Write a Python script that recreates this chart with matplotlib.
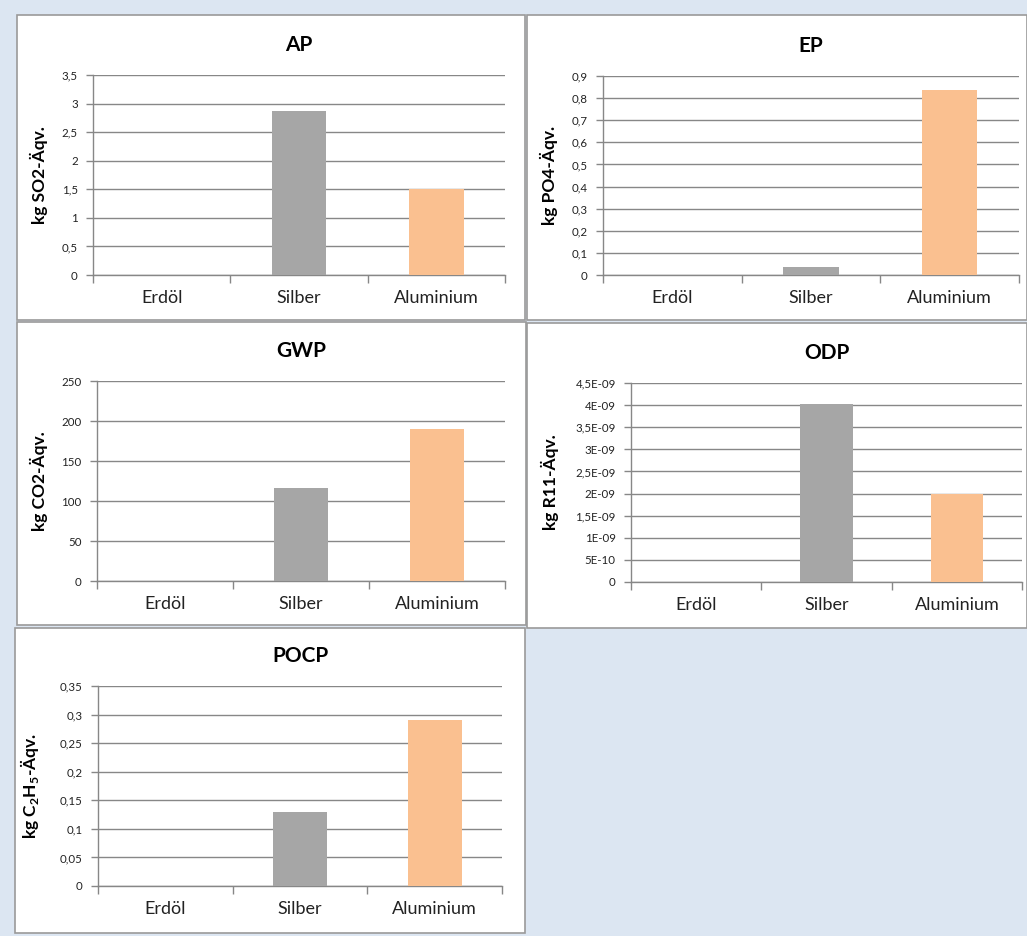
import matplotlib
matplotlib.use("Agg")
import matplotlib.pyplot as plt
from matplotlib.patches import Rectangle

plt.rcParams['font.family'] = ['Lato', 'DejaVu Sans']
plt.rcParams['mathtext.fontset'] = 'custom'
plt.rcParams['mathtext.rm'] = 'Lato'
plt.rcParams['mathtext.bf'] = 'Lato:bold'

categories = ["Erdöl", "Silber", "Aluminium"]
bar_colors = ["#a6a6a6", "#a6a6a6", "#fac090"]

titles = ["AP", "EP", "GWP", "ODP", "POCP"]
ylabels = ["kg SO2-Äqv.", "kg PO4-Äqv.", "kg CO2-Äqv.", "kg R11-Äqv.",
           r"kg C$_\mathbf{2}$H$_\mathbf{5}$-Äqv."]

ap_vals = [0, 2.87, 1.50]
ep_vals = [0, 0.037, 0.838]
gwp_vals = [0, 116.7, 190.0]
odp_vals = [0, 4.03e-9, 1.99e-9]
pocp_vals = [0, 0.13, 0.29]

ap_ticks = [0, 0.5, 1, 1.5, 2, 2.5, 3, 3.5]
ap_ticklabels = ["0", "0,5", "1", "1,5", "2", "2,5", "3", "3,5"]
ep_ticks = [0, 0.1, 0.2, 0.3, 0.4, 0.5, 0.6, 0.7, 0.8, 0.9]
ep_ticklabels = ["0", "0,1", "0,2", "0,3", "0,4", "0,5", "0,6", "0,7", "0,8", "0,9"]
gwp_ticks = [0, 50, 100, 150, 200, 250]
gwp_ticklabels = ["0", "50", "100", "150", "200", "250"]
odp_ticks = [0, 0.5e-9, 1e-9, 1.5e-9, 2e-9, 2.5e-9, 3e-9, 3.5e-9, 4e-9, 4.5e-9]
odp_ticklabels = ["0", "5E-10", "1E-09", "1,5E-09", "2E-09", "2,5E-09",
                  "3E-09", "3,5E-09", "4E-09", "4,5E-09"]
pocp_ticks = [0, 0.05, 0.1, 0.15, 0.2, 0.25, 0.3, 0.35]
pocp_ticklabels = ["0", "0,05", "0,1", "0,15", "0,2", "0,25", "0,3", "0,35"]

values = [ap_vals, ep_vals, gwp_vals, odp_vals, pocp_vals]
ticks = [ap_ticks, ep_ticks, gwp_ticks, odp_ticks, pocp_ticks]
ticklabels = [ap_ticklabels, ep_ticklabels, gwp_ticklabels, odp_ticklabels, pocp_ticklabels]

W, H = 1027, 936
# chart frames and plot areas, in pixels (left, top, right, bottom)
frames = [(17, 15, 525, 320), (527, 15, 1027, 320), (17, 322, 526, 625),
          (527, 323, 1027, 628), (15, 628, 525, 933)]
areas = [(93, 75, 505, 275), (603, 76, 1019, 275), (97, 381, 505, 581),
         (631, 383, 1022, 582), (98, 686, 502, 886)]
ylabel_x = [48, 558, 48, 559, 41]

fig = plt.figure(figsize=(W / 100, H / 100), dpi=100)
fig.patch.set_facecolor("#dce6f2")

grid_c = "#878787"

for i in range(5):
    fx0, fy0, fx1, fy1 = frames[i]
    fig.patches.append(Rectangle((fx0 / W, 1 - fy1 / H), (fx1 - fx0) / W, (fy1 - fy0) / H,
                                 transform=fig.transFigure, facecolor="white",
                                 edgecolor="#9a9a9a", linewidth=1.2, zorder=-1))
    x0, y0, x1, y1 = areas[i]
    ax = fig.add_axes([x0 / W, 1 - y1 / H, (x1 - x0) / W, (y1 - y0) / H])
    ax.set_zorder(1)
    ax.set_facecolor("none")
    ax.bar(range(3), values[i], width=0.4, color=bar_colors, zorder=3)
    ax.set_xlim(-0.5, 2.5)
    ax.set_ylim(ticks[i][0], ticks[i][-1])
    ax.set_yticks(ticks[i])
    ax.set_yticklabels(ticklabels[i], fontsize=8.3, color="#222222")
    ax.yaxis.grid(True, color=grid_c, linewidth=1.0, zorder=0)
    ax.tick_params(axis="y", length=5, width=1, color=grid_c, pad=6)
    # boundary ticks between categories, labels centred on each bar
    ax.set_xticks([-0.5, 0.5, 1.5, 2.5])
    ax.set_xticklabels([])
    ax.set_xticks(range(3), minor=True)
    ax.set_xticklabels(categories, minor=True, fontsize=13, color="#222222")
    ax.tick_params(axis="x", which="major", length=6, width=1, color=grid_c)
    ax.tick_params(axis="x", which="minor", length=0, pad=11)
    for s in ["top", "right"]:
        ax.spines[s].set_visible(False)
    for s in ["left", "bottom"]:
        ax.spines[s].set_color(grid_c)
        ax.spines[s].set_linewidth(1.0)
    ax.set_ylabel(ylabels[i], fontsize=12.5, fontweight="bold")
    ax.yaxis.set_label_coords((ylabel_x[i] - x0) / (x1 - x0), 0.5)
    ax.set_title(titles[i], fontsize=15, fontweight="bold", pad=17)

fig.savefig("out.png", dpi=100, facecolor=fig.get_facecolor())
